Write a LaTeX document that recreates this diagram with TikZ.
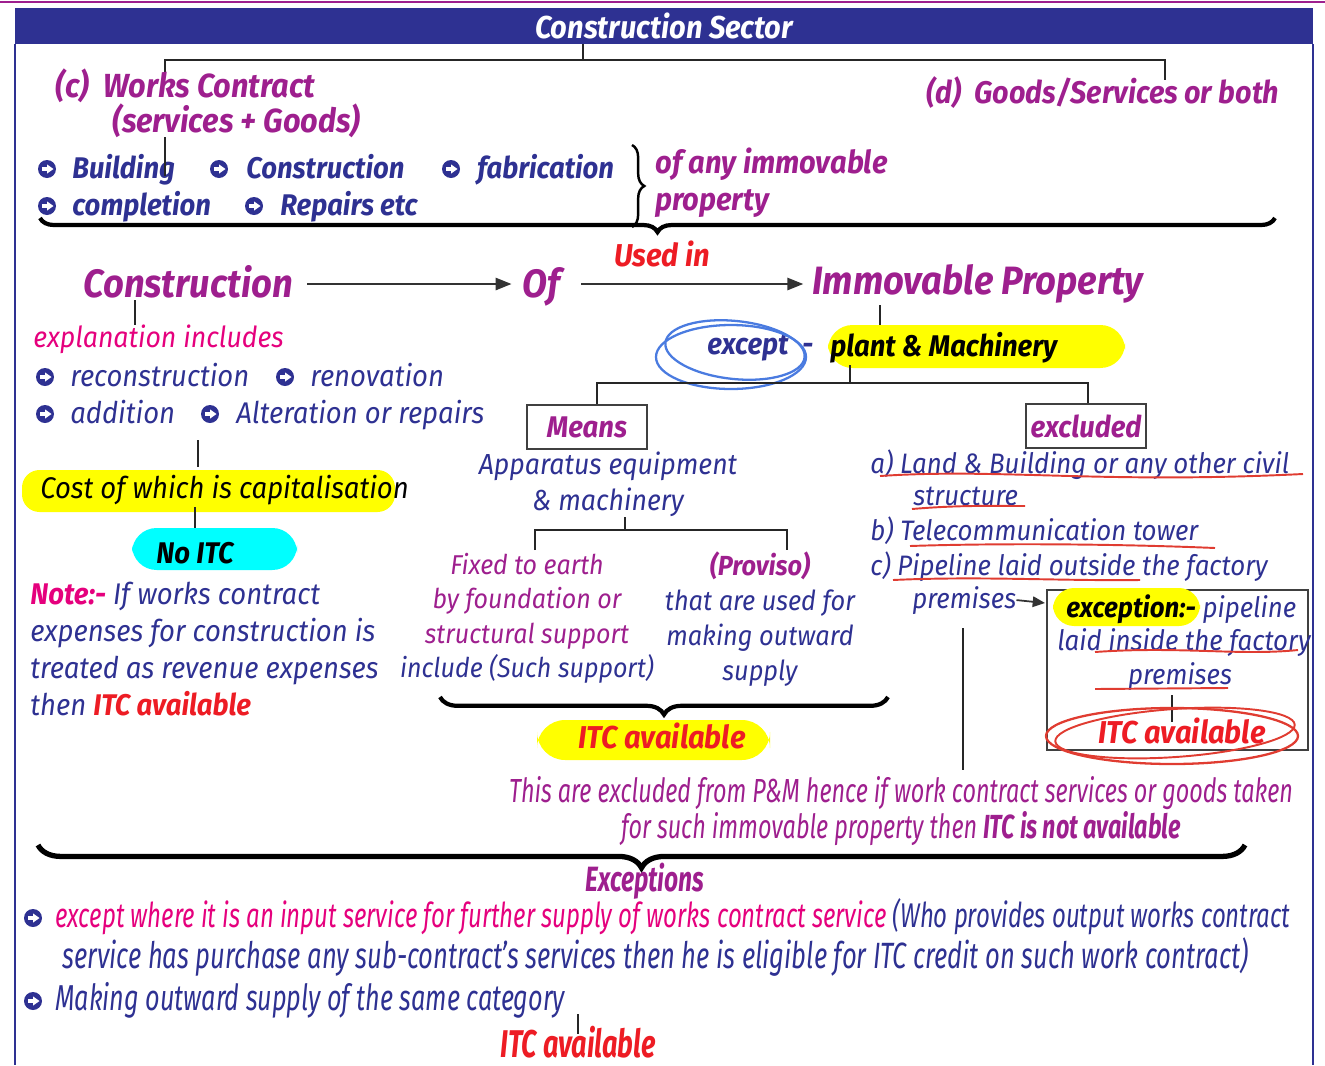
\documentclass[tikz,border=0pt]{standalone}
\usepackage{fontspec}
\setmainfont{Fira Sans}[FakeStretch=0.92]
\newfontfamily\cnd{Fira Sans}[FakeStretch=0.70]
\usetikzlibrary{positioning,calc,arrows.meta,decorations.pathreplacing}
\definecolor{hdrblue}{HTML}{2E3192}
\definecolor{navy}{HTML}{2E3192}
\definecolor{purp}{HTML}{9E1F8E}
\definecolor{pinkc}{HTML}{E5007D}
\definecolor{redc}{HTML}{ED1C24}
\definecolor{hly}{HTML}{FFFF00}
\definecolor{cyanc}{HTML}{00FFFF}
\definecolor{circblue}{HTML}{4A7BE0}
\definecolor{markred}{HTML}{E03C31}
\tikzset{
  hdr/.style  ={fill=hdrblue, text=white, font=\bfseries\itshape\fontsize{18}{20}\selectfont,
                minimum width=25.96cm, minimum height=0.72cm, inner sep=0pt},
  lvl/.style  ={text=purp, font=\bfseries\itshape\fontsize{19}{22}\selectfont, inner sep=0pt},
  big/.style  ={text=purp, font=\bfseries\itshape\fontsize{22.5}{26}\selectfont, inner sep=0pt},
  itb/.style  ={text=navy, font=\bfseries\itshape\fontsize{17}{20}\selectfont, inner sep=0pt},
  itn/.style  ={text=navy, font=\itshape\fontsize{17}{21}\selectfont, inner sep=0pt},
  itx/.style  ={text=navy, font=\itshape\fontsize{16}{20}\selectfont, inner sep=0pt},
  cnd/.style  ={text=navy, font=\cnd\itshape\fontsize{19.5}{22}\selectfont, inner sep=0pt},
  itcred/.style={text=redc, font=\bfseries\itshape\fontsize{18}{20}\selectfont, inner sep=0pt},
  tree/.style ={draw=black!85, line width=1.6pt},
  arw/.style  ={draw=black!80, line width=1pt, -{Triangle[length=9pt,width=7pt]}},
  brc/.style  ={draw=black, line width=2.4pt, decorate, decoration={brace, amplitude=8pt}},
  hl/.style   ={fill=hly, rounded corners=10pt},
  boxed/.style={draw=black!75, line width=0.8pt, minimum width=2.4cm, minimum height=0.88cm,
                text=purp, font=\bfseries\itshape\fontsize{17}{20}\selectfont, inner sep=0pt},
  redmark/.style={draw=markred, line width=1.1pt},
  circ/.style ={draw=circblue, line width=1.3pt},
  bullet/.pic ={\fill[navy] (0,0) circle[radius=9];
                \fill[white] (-5,-1.8) rectangle (0.5,1.8);
                \fill[white] (0,-4.6) -- (6.5,0) -- (0,4.6) -- cycle;},
}
\begin{document}
\begin{tikzpicture}[x=0.02cm, y=-0.02cm]
  \useasboundingbox (0,0) rectangle (1325,1065);

  % ---- frame and header ----
  \draw[purp, line width=1.5pt] (0,2) -- (1325,2);
  \draw[navy, line width=0.6pt] (15,44) -- (15,1065);
  \draw[navy, line width=0.6pt] (1313,44) -- (1313,1065);
  \node[hdr] (hdr) at (664,26) {Construction Sector};

  % ---- (c) and (d) ----
  \coordinate (top) at (583,60);
  \coordinate (wcT) at (165,75);
  \coordinate (gsT) at (1165,80);
  \draw[tree] (hdr.south -| top) -- (top);
  \draw[tree] (wcT) |- (top) -| (gsT);
  \node[lvl, anchor=base west] (wc) at (55,97) {(c)\ \ Works Contract};
  \node[lvl, anchor=base west] (sg) at (112,132) {(services + Goods)};
  \node[lvl, font=\bfseries\itshape\fontsize{17.8}{22}\selectfont, anchor=base west] (gs) at (926,103) {(d)\ \ Goods/Services or both};

  \foreach \bx/\by in {47/169, 219/169, 451/169, 47/206, 254/206}
    \pic at (\bx,\by) {bullet};
  \node[itb, anchor=base west] (b1) at (72,178) {Building};
  \node[itb, anchor=base west] (b2) at (246,178) {Construction};
  \node[itb, anchor=base west] (b3) at (477,178) {fabrication};
  \node[itb, anchor=base west] (b4) at (72,215) {completion};
  \node[itb, anchor=base west] (b5) at (280,215) {Repairs etc};
  \draw[tree] (165,137) -- (165,176);
  \coordinate (brT) at (632,145);
  \coordinate (brB) at (632,227);
  \draw[brc, decoration={amplitude=7pt}, line width=1.4pt] (brT) -- (brB);
  \node[lvl, font=\bfseries\itshape\fontsize{18}{20}\selectfont, anchor=base west] (ofany) at (655,173) {of any immovable};
  \node[lvl, font=\bfseries\itshape\fontsize{18}{20}\selectfont, anchor=base west] (prop) at (655,210) {property};
  \coordinate (ubR) at (1275,218);
  \coordinate (ubL) at (40,218);
  \draw[brc] (ubR) -- (ubL);
  \node[itcred, anchor=base west] (used) at (614,266) {Used in};

  % ---- Construction -> Of -> Immovable Property ----
  \coordinate (arrY) at (0,284);
  \node[big, anchor=base west] (cons) at (83,297) {Construction};
  \node[big, anchor=base west] (of) at (522,297) {Of};
  \node[big, anchor=base west] (imm) at (812,294) {Immovable Property};
  \draw[arw] ([xshift=8pt]cons.east |- arrY) -- ([xshift=-6pt]of.west |- arrY);
  \draw[arw] ([xshift=12pt]of.east |- arrY) -- ([xshift=-5pt]imm.west |- arrY);

  % ---- explanation ----
  \draw[tree] (135,300) -- (135,325);
  \node[itn, text=pinkc, font=\itshape\fontsize{16.5}{21}\selectfont, anchor=base west] (expl) at (33,347) {explanation includes};
  \foreach \bx/\by in {45/377, 285/377, 45/414, 210/414}
    \pic at (\bx,\by) {bullet};
  \node[itn, anchor=base west] (e1) at (70,386) {reconstruction};
  \node[itn, anchor=base west] (e2) at (310,386) {renovation};
  \node[itn, anchor=base west] (e3) at (70,423) {addition};
  \node[itn, anchor=base west] (e4) at (236,423) {Alteration or repairs};
  \draw[tree] (198,440) -- (198,467);
  \fill[hl] (22,470) rectangle (395,512);
  \node[itn, text=black, anchor=base west] (cost) at (40,498) {Cost of which is capitalisation};
  \draw[tree] (195,507) -- (195,533);
  \fill[cyanc, rounded corners=14pt] (132,528) rectangle (297,570);
  \node[itb, text=black, anchor=base] (noitc) at (195,563) {No ITC};
  \node[itn, anchor=north west, align=left] (note) at (30,582)
       {{\color{pinkc}\bfseries Note:-} If works contract\\
        expenses for construction is\\
        treated as revenue expenses\\
        then {\color{redc}\bfseries ITC available}};

  % ---- plant & machinery ----
  \draw[tree] (880,305) -- (880,333);
  \fill[hl, rounded corners=14pt] (828,325) rectangle (1125,368);
  \node[itb, anchor=base west] (exc) at (707,354) {except};
  \node[itb, anchor=base west] (dash) at (802,354) {-};
  \node[itb, text=black, anchor=base west] (pm) at (830,356) {plant \& Machinery};
  \draw[circ] (731,357) ellipse [x radius=75, y radius=32];
  \draw[circ, rotate around={-6:(735,350)}] (735,350) ellipse [x radius=70, y radius=29];
  \coordinate (pmB) at (850,383);
  \coordinate (mT) at (597,405);
  \coordinate (xT) at (1088,405);
  \draw[tree] (850,365) -- (pmB);
  \draw[tree] (mT) |- (pmB) -| (xT);
  \node[boxed] (means) at (587,427) {Means};
  \node[boxed] (excl) at (1086,426) {excluded};

  % ---- Means branch ----
  \node[itn, font=\itshape\fontsize{16.5}{21}\selectfont, anchor=base] (app1) at (608,474) {Apparatus equipment};
  \node[itn, font=\itshape\fontsize{16.5}{21}\selectfont, anchor=base] (app2) at (608,510) {\& machinery};
  \coordinate (apB) at (625,530);
  \coordinate (fxT) at (535,550);
  \coordinate (pvT) at (787,550);
  \draw[tree] (625,517) -- (apB);
  \draw[tree] (fxT) |- (apB) -| (pvT);
  \node[itn, text=purp, anchor=north, align=center, font=\itshape\fontsize{15.5}{19.5}\selectfont] (fix) at (527,553)
       {Fixed to earth\\by foundation or\\structural support\\{\color{navy}include (Such support)}};
  \node[itn, anchor=north, align=center, font=\itshape\fontsize{15.7}{20}\selectfont] (prov) at (760,551)
       {{\color{purp}\bfseries(Proviso)}\\that are used for\\making outward\\supply};
  \coordinate (mbR) at (888,697);
  \coordinate (mbL) at (440,697);
  \draw[brc, decoration={amplitude=10pt}] (mbR) -- (mbL);
  \fill[hl, rounded corners=16pt] (537,720) rectangle (770,760);
  \node[itcred, anchor=base] (itc1) at (662,748) {ITC available};

  % ---- excluded branch ----
  \node[itx, anchor=base west] (xa) at (870,473) {a)\ Land \& Building or any other civil};
  \node[itx, anchor=base west] (xa2) at (913,505) {structure};
  \node[itx, anchor=base west] (xb) at (870,540) {b)\ Telecommunication tower};
  \node[itx, anchor=base west] (xc) at (870,575) {c)\ Pipeline laid outside the factory};
  \node[itx, anchor=base west] (xc2) at (912,608) {premises};
  \draw[redmark] (880,476) .. controls (1000,468) and (1100,484) .. (1303,474);
  \draw[redmark] (912,509) .. controls (960,505) and (990,506) .. (1025,506);
  \draw[redmark] (910,546) .. controls (1000,543) and (1120,544) .. (1215,548);
  \draw[redmark] (893,580) .. controls (980,576) and (1060,581) .. (1140,580);
  \draw[draw=black!75, line width=0.8pt] (1047,590) rectangle (1308,750);
  \draw[arw, -{Triangle[length=7pt,width=6pt]}] (xc2.east) -- (1045,603);
  \fill[hl, rounded corners=12pt] (1053,588) rectangle (1200,626);
  \node[itx, anchor=base west] (ex1) at (1066,617) {{\color{black}\bfseries exception:-} pipeline};
  \node[itx, anchor=base west] (ex2) at (1057,650) {laid inside the factory};
  \node[itx, anchor=base] (ex3) at (1180,684) {premises};
  \draw[redmark] (1095,652) .. controls (1180,646) and (1240,656) .. (1298,650);
  \draw[redmark] (1095,689) -- (1228,688);
  \coordinate (itT) at (1172,695);
  \coordinate (itB) at (1172,722);
  \draw[tree] (itT) -- (itB);
  \node[itcred, anchor=base] (itc2) at (1182,743) {ITC available};
  \draw[redmark, line width=1.3pt] (1172,736) ellipse [x radius=126, y radius=28];
  \draw[redmark, rotate around={4:(1175,733)}] (1175,733) ellipse [x radius=120, y radius=24];
  \coordinate (vlT) at (963,628);
  \coordinate (vlB) at (963,770);
  \draw[tree] (vlT) -- (vlB);

  % ---- not available note ----
  \node[cnd, font=\cnd\itshape\fontsize{19}{22}\selectfont, text=purp, anchor=base] (na1) at (901,802) {This are excluded from P\&M hence if work contract services or goods taken};
  \node[cnd, font=\cnd\itshape\fontsize{19}{22}\selectfont, text=purp, anchor=base] (na2) at (901,838) {for such immovable property then {\bfseries ITC is not available}};
  \coordinate (bbR) at (1245,845);
  \coordinate (bbL) at (38,845);
  \draw[brc, decoration={amplitude=13pt}, line width=3pt] (bbR) -- (bbL);

  % ---- exceptions ----
  \node[cnd, text=purp, font=\cnd\bfseries\itshape\fontsize{20}{22}\selectfont, anchor=base] (excp) at (645,891) {Exceptions};
  \foreach \bx/\by in {33/918, 33/1001}
    \pic at (\bx,\by) {bullet};
  \node[cnd, anchor=base west] (x1) at (55,927)
       {{\color{pinkc}except where it is an input service for further supply of works contract service} (Who provides output works contract};
  \node[cnd, font=\cnd\itshape\fontsize{20.8}{22}\selectfont, anchor=base west] (x2) at (62,968)
       {service has purchase any sub-contract’s services then he is eligible for ITC credit on such work contract)};
  \node[cnd, font=\cnd\itshape\fontsize{20.5}{22}\selectfont, anchor=base west] (x3) at (55,1010) {Making outward supply of the same category};
  \draw[tree] (578,1014) -- (578,1034);
  \node[cnd, text=redc, font=\cnd\bfseries\itshape\fontsize{22}{24}\selectfont, anchor=base] (itc3) at (578,1057) {ITC available};
\end{tikzpicture}
\end{document}
